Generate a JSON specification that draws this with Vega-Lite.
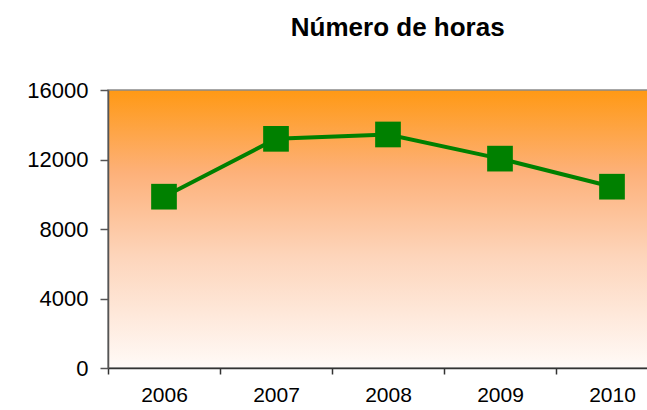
{
  "$schema": "https://vega.github.io/schema/vega-lite/v6.json",
  "autosize": "none",
  "width": 541,
  "height": 278,
  "padding": {"left": 108, "top": 90, "right": 0, "bottom": 42},
  "background": "white",
  "title": {
    "text": "Número de horas",
    "font": "Liberation Sans",
    "fontSize": 26,
    "fontWeight": "bold",
    "color": "#000000",
    "anchor": "start",
    "dx": 264,
    "offset": 38
  },
  "config": {
    "font": "Liberation Sans",
    "view": {
      "stroke": "#8a8a8a",
      "strokeWidth": 1.5,
      "fill": {
        "gradient": "linear",
        "x1": 0, "y1": 0, "x2": 0, "y2": 1,
        "stops": [
          {"offset": 0, "color": "#ff9914"},
          {"offset": 0.3, "color": "#fdb17a"},
          {"offset": 0.6, "color": "#fdd5bb"},
          {"offset": 1, "color": "#fffaf7"}
        ]
      }
    }
  },
  "data": {
    "values": [
      {"year": 2006, "horas": 9860},
      {"year": 2007, "horas": 13190},
      {"year": 2008, "horas": 13440},
      {"year": 2009, "horas": 12050},
      {"year": 2010, "horas": 10435}
    ]
  },
  "encoding": {
    "x": {
      "field": "year",
      "type": "quantitative",
      "scale": {"domain": [2005.5, 2010.3304], "nice": false, "zero": false},
      "axis": {
        "title": null,
        "values": [2005.5, 2006.5, 2007.5, 2008.5, 2009.5],
        "labelExpr": "format(datum.value + 0.5, 'd')",
        "labelOffset": 56,
        "labelFlush": false,
        "labelOverlap": false,
        "labelBound": false,
        "labelFontSize": 21,
        "labelColor": "#000000",
        "labelPadding": 10,
        "tickSize": 6,
        "tickColor": "#333333",
        "tickWidth": 1.5,
        "domainColor": "#333333",
        "domainWidth": 1.5,
        "grid": false
      }
    },
    "y": {
      "field": "horas",
      "type": "quantitative",
      "scale": {"domain": [0, 16000], "nice": false},
      "axis": {
        "title": null,
        "values": [0, 4000, 8000, 12000, 16000],
        "format": "d",
        "labelFontSize": 22,
        "labelColor": "#000000",
        "labelPadding": 12,
        "tickSize": 8,
        "tickColor": "#555555",
        "tickWidth": 1.5,
        "domainColor": "#555555",
        "domainWidth": 1.5,
        "grid": false
      }
    }
  },
  "layer": [
    {"mark": {"type": "line", "color": "#008000", "strokeWidth": 4}},
    {"mark": {"type": "point", "shape": "square", "filled": true, "opacity": 1, "color": "#008000", "size": 660}}
  ]
}
